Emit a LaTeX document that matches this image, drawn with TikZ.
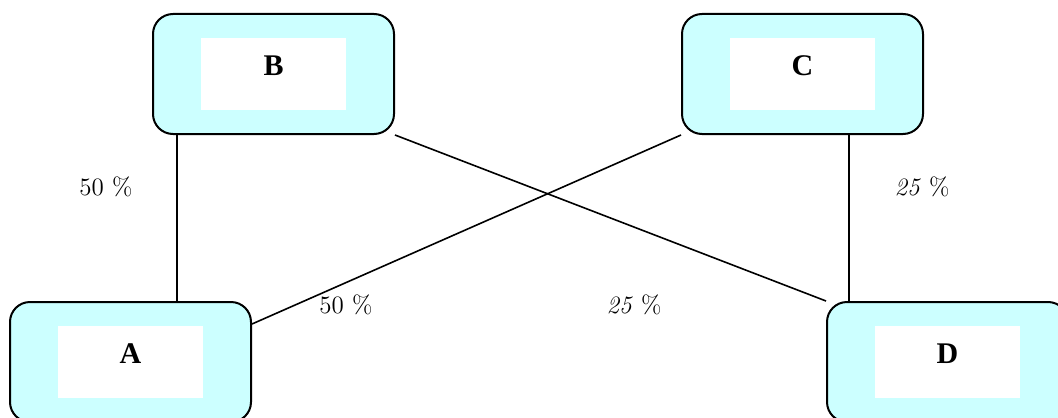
\documentclass[tikz,border=0pt]{standalone}
\usepackage{fontspec}
\newfontfamily\timesfont{Liberation Serif}
\begin{document}
\begin{tikzpicture}[x=0.5pt,y=-0.5pt]
% Styles
\tikzstyle{outer box}=[draw=black,line width=1pt,fill={rgb,255:red,204;green,255;blue,255},rounded corners=10pt,minimum width=120.5pt,minimum height=60pt,inner sep=0pt]
\tikzstyle{inner box}=[fill=white,minimum width=72.5pt,minimum height=36pt,inner sep=0pt]
\tikzstyle{box text}=[font=\timesfont\bfseries\fontsize{15}{17}\selectfont]
\tikzstyle{percent text}=[font=\fontsize{12.5}{15}\selectfont]
\tikzstyle{link}=[line width=0.8pt]

\useasboundingbox (0,0) rectangle (1058,417);
\clip (0,0) rectangle (1058,417);

% draw the nodes
\foreach \name/\x/\y in {B/273.5/74,C/802.5/74,A/130.5/362,D/947.5/362} {
\node[outer box] (\name) at (\x,\y) {};
\node[inner box] (\name in) at (\name) {};
\node[box text] (\name txt) at ([yshift=4pt]\name) {\name};
}

% links
\coordinate (ba) at ([xshift=12.5pt]B.south west);
\coordinate (cd) at ([xshift=84pt]C.south west);
\draw[link] (ba) -- (ba |- A.north);
\draw[link] (cd) -- (cd |- D.north);
\draw[link] (B.south east) -- (D.north west);
\draw[link] (C.south west) -- ([yshift=-11.5pt]A.north east);

% percentages
\node[percent text] (pba) at (106,187) {50 \%};
\node[percent text] (pca) at (346,305) {50 \%};
\node[percent text] (pbd) at (634,305) {\textit{25} \%};
\node[percent text] (pcd) at (922,187) {\textit{25} \%};

\end{tikzpicture}
\end{document}
